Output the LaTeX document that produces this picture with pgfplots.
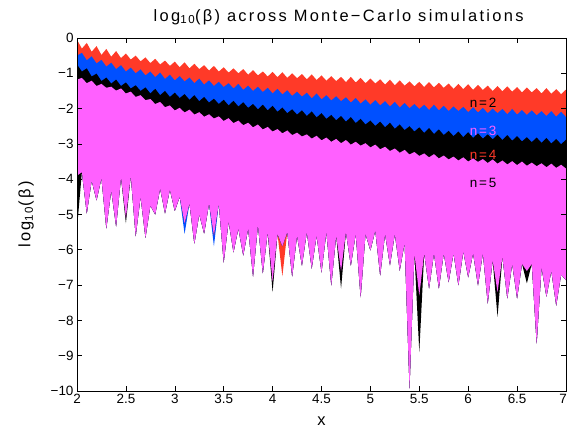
\documentclass[border=0pt]{standalone}
\usepackage{pgfplots}
\pgfplotsset{compat=1.18}
\usepackage{pgfplotstable}
\usepgfplotslibrary{fillbetween}
\usepackage{fontspec}
\setmainfont{Liberation Sans}
\newfontfamily\widefont[LetterSpace=14]{Liberation Sans}
\definecolor{redc}{RGB}{255,58,40}
\definecolor{bluec}{RGB}{0,80,255}
\definecolor{magc}{RGB}{255,96,255}

\pgfplotstableread{
x rt bt kt mt mb rb bb kb
2.00 -0.05 -0.50 -0.75 -1.18 -3.90 -3.90 -3.90 -5.40
2.05 -0.30 -0.42 -0.95 -1.13 -3.80 -3.80 -3.80 -3.80
2.10 -0.14 -0.63 -0.86 -1.28 -4.97 -4.97 -4.97 -4.97
2.15 -0.39 -0.52 -1.09 -1.21 -4.04 -4.04 -4.04 -4.04
2.20 -0.23 -0.72 -1.01 -1.36 -4.60 -4.60 -4.60 -4.60
2.25 -0.48 -0.62 -1.22 -1.30 -3.97 -3.97 -3.97 -3.97
2.30 -0.31 -0.81 -1.12 -1.41 -5.40 -5.40 -5.40 -5.40
2.35 -0.53 -0.70 -1.29 -1.38 -4.32 -4.32 -4.32 -4.32
2.40 -0.37 -0.88 -1.18 -1.49 -5.34 -5.34 -5.34 -5.34
2.45 -0.57 -0.77 -1.36 -1.43 -3.95 -3.95 -3.95 -3.95
2.50 -0.44 -0.95 -1.26 -1.57 -5.10 -5.10 -5.10 -5.25
2.55 -0.61 -0.84 -1.43 -1.52 -3.90 -3.90 -3.90 -3.90
2.60 -0.50 -1.00 -1.34 -1.67 -5.62 -5.62 -5.62 -5.62
2.65 -0.66 -0.89 -1.50 -1.62 -4.50 -4.50 -4.50 -4.50
2.70 -0.55 -1.06 -1.40 -1.76 -5.66 -5.66 -5.66 -5.66
2.75 -0.71 -0.95 -1.57 -1.73 -4.75 -4.75 -4.75 -4.75
2.80 -0.59 -1.11 -1.44 -1.87 -5.00 -5.00 -5.00 -5.00
2.85 -0.75 -0.98 -1.62 -1.81 -4.27 -4.27 -4.27 -4.27
2.90 -0.64 -1.16 -1.50 -1.96 -4.97 -4.97 -4.97 -4.97
2.95 -0.79 -1.04 -1.67 -1.91 -4.30 -4.30 -4.30 -4.30
3.00 -0.67 -1.20 -1.55 -2.05 -4.90 -4.90 -4.90 -4.90
3.05 -0.83 -1.08 -1.70 -1.98 -4.50 -4.50 -4.50 -4.50
3.10 -0.69 -1.23 -1.59 -2.11 -5.25 -5.25 -5.55 -5.25
3.15 -0.86 -1.12 -1.75 -2.03 -4.69 -4.69 -4.69 -4.69
3.20 -0.73 -1.28 -1.62 -2.17 -5.83 -5.83 -5.83 -5.83
3.25 -0.88 -1.15 -1.79 -2.10 -5.00 -5.00 -5.00 -5.00
3.30 -0.77 -1.32 -1.67 -2.23 -5.54 -5.54 -5.54 -5.54
3.35 -0.92 -1.20 -1.83 -2.16 -4.69 -4.69 -4.69 -4.69
3.40 -0.79 -1.36 -1.72 -2.28 -5.60 -5.60 -5.90 -5.60
3.45 -0.95 -1.24 -1.87 -2.22 -4.69 -4.69 -4.69 -4.69
3.50 -0.83 -1.39 -1.75 -2.35 -6.36 -6.36 -6.36 -6.36
3.55 -0.98 -1.28 -1.91 -2.27 -5.20 -5.20 -5.20 -5.20
3.60 -0.86 -1.43 -1.78 -2.41 -6.07 -6.07 -6.07 -6.07
3.65 -1.00 -1.30 -1.94 -2.34 -5.40 -5.40 -5.40 -5.40
3.70 -0.88 -1.47 -1.82 -2.47 -6.16 -6.16 -6.16 -6.16
3.75 -1.04 -1.35 -1.98 -2.40 -5.40 -5.40 -5.40 -5.40
3.80 -0.91 -1.50 -1.87 -2.53 -6.76 -6.76 -6.76 -6.76
3.85 -1.06 -1.38 -2.02 -2.45 -5.30 -5.30 -5.30 -5.30
3.90 -0.95 -1.53 -1.89 -2.59 -6.67 -6.67 -6.67 -6.67
3.95 -1.09 -1.41 -2.05 -2.52 -5.50 -5.50 -5.50 -5.50
4.00 -0.96 -1.57 -1.92 -2.65 -6.90 -6.90 -6.90 -7.20
4.05 -1.11 -1.44 -2.09 -2.58 -5.55 -5.55 -5.55 -5.55
4.10 -0.97 -1.60 -1.97 -2.70 -5.90 -6.75 -5.90 -5.90
4.15 -1.13 -1.48 -2.13 -2.62 -5.50 -5.50 -5.50 -5.50
4.20 -1.00 -1.64 -2.02 -2.75 -6.76 -6.76 -6.76 -6.76
4.25 -1.14 -1.52 -2.17 -2.68 -5.60 -5.60 -5.60 -5.60
4.30 -1.02 -1.66 -2.05 -2.79 -6.45 -6.45 -6.45 -6.45
4.35 -1.17 -1.55 -2.21 -2.73 -5.50 -5.50 -5.50 -5.50
4.40 -1.03 -1.71 -2.08 -2.85 -6.53 -6.53 -6.53 -6.53
4.45 -1.19 -1.57 -2.25 -2.77 -5.60 -5.60 -5.60 -5.60
4.50 -1.06 -1.74 -2.13 -2.90 -6.64 -6.64 -6.64 -6.64
4.55 -1.21 -1.62 -2.29 -2.82 -5.50 -5.50 -5.50 -5.50
4.60 -1.08 -1.77 -2.18 -2.94 -7.01 -7.01 -7.01 -7.01
4.65 -1.22 -1.65 -2.33 -2.86 -5.60 -5.60 -5.60 -5.60
4.70 -1.10 -1.79 -2.21 -2.98 -6.60 -6.60 -6.60 -7.10
4.75 -1.25 -1.68 -2.37 -2.89 -5.50 -5.50 -5.50 -5.50
4.80 -1.10 -1.83 -2.24 -3.02 -6.45 -6.45 -6.45 -6.45
4.85 -1.26 -1.70 -2.41 -2.94 -5.55 -5.55 -5.55 -5.55
4.90 -1.13 -1.86 -2.29 -3.05 -7.35 -7.35 -7.35 -7.35
4.95 -1.28 -1.74 -2.45 -2.98 -5.55 -5.55 -5.55 -5.55
5.00 -1.15 -1.89 -2.34 -3.10 -6.02 -6.02 -6.02 -6.02
5.05 -1.29 -1.76 -2.49 -3.02 -5.45 -5.45 -5.45 -5.45
5.10 -1.17 -1.91 -2.37 -3.15 -6.73 -6.73 -6.73 -6.73
5.15 -1.32 -1.79 -2.53 -3.08 -5.55 -5.55 -5.55 -5.55
5.20 -1.18 -1.94 -2.40 -3.20 -6.44 -6.44 -6.44 -6.44
5.25 -1.34 -1.81 -2.57 -3.13 -5.55 -5.55 -5.55 -5.55
5.30 -1.20 -1.97 -2.45 -3.25 -6.59 -6.59 -6.59 -6.59
5.35 -1.35 -1.84 -2.61 -3.17 -5.80 -5.80 -5.80 -5.80
5.40 -1.23 -1.99 -2.50 -3.30 -9.93 -9.93 -9.93 -9.93
5.45 -1.37 -1.87 -2.65 -3.23 -6.10 -6.10 -6.10 -6.10
5.50 -1.24 -2.01 -2.53 -3.34 -7.30 -7.30 -7.30 -8.90
5.55 -1.39 -1.89 -2.69 -3.27 -6.10 -6.10 -6.10 -6.10
5.60 -1.25 -2.04 -2.55 -3.38 -7.10 -7.10 -7.10 -7.10
5.65 -1.40 -1.89 -2.72 -3.29 -6.10 -6.10 -6.10 -6.10
5.70 -1.27 -2.05 -2.59 -3.41 -7.10 -7.10 -7.10 -7.10
5.75 -1.41 -1.92 -2.75 -3.33 -6.10 -6.10 -6.10 -6.10
5.80 -1.29 -2.07 -2.63 -3.44 -6.92 -6.92 -6.92 -6.92
5.85 -1.44 -1.94 -2.78 -3.36 -6.10 -6.10 -6.10 -6.10
5.90 -1.30 -2.07 -2.65 -3.47 -7.01 -7.01 -7.01 -7.01
5.95 -1.45 -1.95 -2.81 -3.38 -6.05 -6.05 -6.05 -6.05
6.00 -1.31 -2.10 -2.67 -3.50 -6.78 -6.78 -6.78 -6.78
6.05 -1.47 -1.96 -2.83 -3.41 -6.10 -6.10 -6.10 -6.10
6.10 -1.33 -2.11 -2.70 -3.51 -7.01 -7.01 -7.01 -7.01
6.15 -1.47 -1.98 -2.85 -3.43 -6.10 -6.10 -6.10 -6.10
6.20 -1.35 -2.13 -2.73 -3.54 -7.52 -7.52 -7.52 -7.52
6.25 -1.50 -2.00 -2.87 -3.44 -6.30 -6.30 -6.30 -6.30
6.30 -1.36 -2.13 -2.74 -3.56 -7.20 -7.20 -7.20 -7.90
6.35 -1.51 -2.01 -2.89 -3.47 -6.20 -6.20 -6.20 -6.20
6.40 -1.37 -2.16 -2.75 -3.58 -7.38 -7.38 -7.38 -7.38
6.45 -1.52 -2.01 -2.91 -3.49 -6.40 -6.40 -6.40 -6.40
6.50 -1.39 -2.17 -2.78 -3.60 -7.38 -7.38 -7.38 -7.38
6.55 -1.54 -2.04 -2.93 -3.50 -6.40 -6.40 -6.40 -6.40
6.60 -1.40 -2.18 -2.81 -3.62 -6.60 -6.60 -6.60 -6.95
6.65 -1.54 -2.05 -2.95 -3.53 -6.40 -6.40 -6.40 -6.40
6.70 -1.42 -2.19 -2.82 -3.63 -8.66 -8.66 -8.66 -8.66
6.75 -1.57 -2.07 -2.97 -3.55 -6.50 -6.50 -6.50 -6.50
6.80 -1.42 -2.21 -2.83 -3.66 -7.33 -7.33 -7.33 -7.33
6.85 -1.58 -2.07 -2.99 -3.56 -6.60 -6.60 -6.60 -6.60
6.90 -1.45 -2.23 -2.86 -3.68 -7.58 -7.58 -7.58 -7.58
6.95 -1.59 -2.09 -3.01 -3.59 -6.70 -6.70 -6.70 -6.70
7.00 -1.46 -2.24 -2.88 -3.70 -6.86 -6.86 -6.86 -6.86
}\data

\begin{document}
\begin{tikzpicture}
\begin{axis}[
  name=ax,
  scale only axis,
  width=489bp, height=353bp,
  xmin=2, xmax=7, ymin=-10, ymax=0,
  xtick={2,2.5,3,3.5,4,4.5,5,5.5,6,6.5,7},
  xticklabels={2,2.5,3,3.5,4,4.5,5,5.5,6,6.5,\hspace*{-6bp}7},
  ytick={-10,-9,-8,-7,-6,-5,-4,-3,-2,-1,0},
  yticklabels={−10,−9,−8,−7,−6,−5,−4,−3,−2,−1,0},
  tick align=inside,
  major tick length=5bp,
  tick style={black, line width=0.6bp},
  axis line style={black, line width=0.8bp},
  tick label style={font=\fontsize{13.5}{15}\selectfont},
  axis on top,
  title={\widefont log\textsubscript{10}(β) across Monte−Carlo simulations},
  title style={at={(axis description cs:0.535,1)}, anchor=south, yshift=7bp, inner sep=0pt, font=\fontsize{16.5}{19}\selectfont},
  xlabel={x},
  xlabel style={at={(axis description cs:0.5,-0.085)}, anchor=center, font=\fontsize{16.5}{19}\selectfont},
  ylabel={\widefont log\textsubscript{10}(β)},
  ylabel style={at={(axis description cs:-0.104,0.5)}, anchor=center, font=\fontsize{16.5}{19}\selectfont},
]
\addplot[draw=none, name path=rt] table[x=x, y=rt] {\data};
\addplot[draw=none, name path=bt] table[x=x, y=bt] {\data};
\addplot[draw=none, name path=kt] table[x=x, y=kt] {\data};
\addplot[draw=none, name path=mt] table[x=x, y=mt] {\data};
\addplot[draw=none, name path=mb] table[x=x, y=mb] {\data};
\addplot[draw=none, name path=rb] table[x=x, y=rb] {\data};
\addplot[draw=none, name path=bb] table[x=x, y=bb] {\data};
\addplot[draw=none, name path=kb] table[x=x, y=kb] {\data};
\addplot[fill=redc, draw=none] fill between[of=rt and rb];
\addplot[fill=bluec, draw=none] fill between[of=bt and bb];
\addplot[fill=black, draw=none] fill between[of=kt and kb];
\addplot[fill=magc, draw=none] fill between[of=mt and mb];
\node[anchor=west, text=black, font=\fontsize{13.5}{15}\selectfont\widefont] at (axis cs:5.98,-1.83) {n=2};
\node[anchor=west, text=magc, font=\fontsize{13.5}{15}\selectfont\widefont] at (axis cs:5.98,-2.62) {n=3};
\node[anchor=west, text=redc, font=\fontsize{13.5}{15}\selectfont\widefont] at (axis cs:5.98,-3.30) {n=4};
\node[anchor=west, text=black, font=\fontsize{13.5}{15}\selectfont\widefont] at (axis cs:5.98,-4.12) {n=5};
\end{axis}
\pgfresetboundingbox
\path ([xshift=-77bp,yshift=-43bp]ax.south west) rectangle ([xshift=2bp,yshift=38bp]ax.north east);
\end{tikzpicture}
\end{document}
